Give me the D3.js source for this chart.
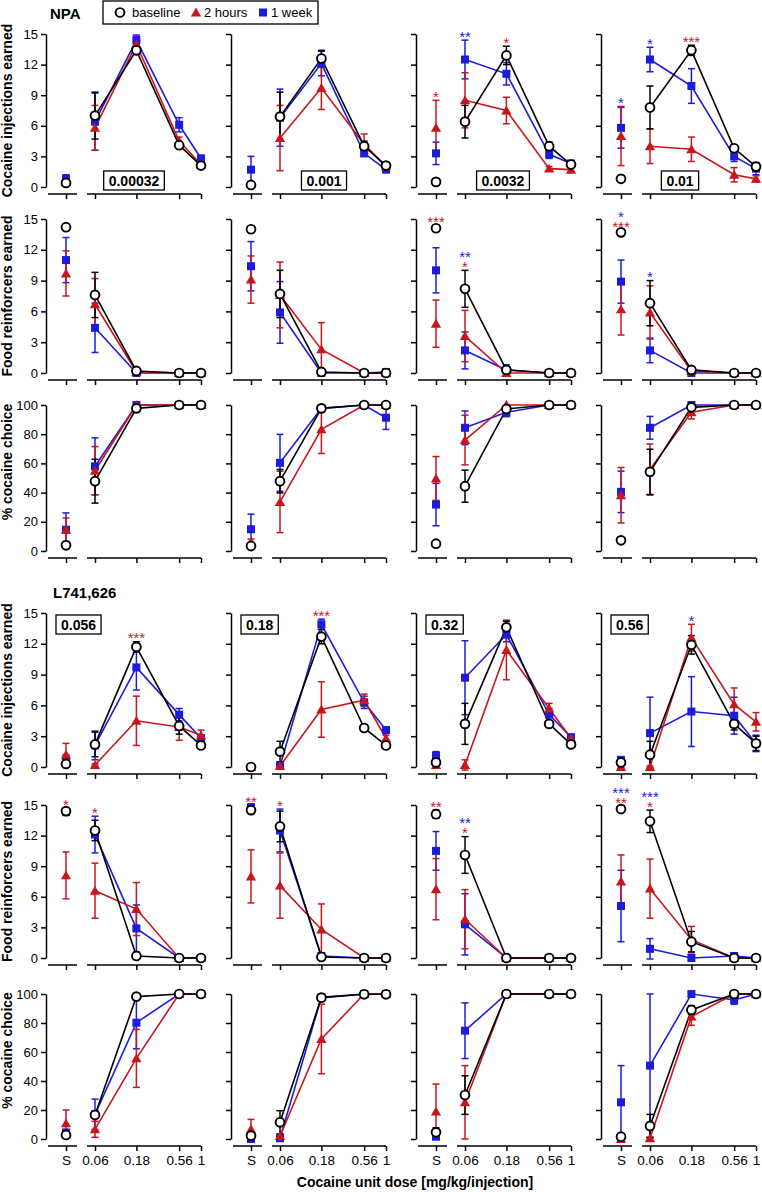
<!DOCTYPE html>
<html>
<head>
<meta charset="utf-8">
<script src="https://cdn.jsdelivr.net/npm/d3@7"></script>
<style>
body { margin: 0; background: #fff; }
svg { font-family: "Liberation Sans", Arial, Helvetica, sans-serif; }
</style>
</head>
<body>
<div id="chart"></div>
<script>
// x categories: saline (S) and the cocaine unit doses
const doseLabels = ["S", "0.06", "0.18", "0.56", "1"];
const doseValues = [null, 0.06, 0.18, 0.56, 1];
const seriesNames = ["baseline", "2 hours", "1 week"];
const npaPretreat = ["0.00032", "0.001", "0.0032", "0.01"];
const l741Pretreat = ["0.056", "0.18", "0.32", "0.56"];
const countTicks = [0, 3, 6, 9, 12, 15];
const choiceTicks = [0, 20, 40, 60, 80, 100];

// one row per pretreatment dose; values at S, 0.06, 0.18, 0.56, 1
const npaInjBase = [[0.4, 7.0, 13.4, 4.1, 2.1], [0.2, 6.9, 12.6, 4.0, 2.1], [0.5, 6.4, 12.9, 4.0, 2.2], [0.8, 7.8, 13.4, 3.8, 2.0]];
const npaInjBaseSem = [[0.2, 2.3, 0.4, 0.3, 0.2], [0.1, 2.4, 0.8, 0.5, 0.2], [0.3, 1.6, 0.9, 0.4, 0.2], [0.1, 2.1, 0.5, 0.3, 0.3]];
const npaInj2h = [[0.5, 5.8, 14.0, 4.5, 2.2], [0.3, 4.8, 9.7, 4.2, 2.0], [5.8, 8.5, 7.5, 1.8, 1.7], [5.0, 4.0, 3.7, 1.2, 0.8]];
const npaInj2hSem = [[0.3, 2.2, 0.8, 0.4, 0.2], [0.2, 3.2, 2.1, 1.0, 0.2], [2.7, 2.7, 1.3, 0.2, 0.2], [2.9, 1.7, 1.2, 0.7, 0.3]];
const npaInj1w = [[0.8, 6.4, 14.4, 6.1, 2.8], [1.7, 6.8, 12.1, 3.3, 1.7], [3.3, 12.5, 11.1, 3.2, 2.3], [5.8, 12.5, 9.9, 3.0, 1.8]];
const npaInj1wSem = [[0.4, 2.8, 0.5, 0.7, 0.3], [1.3, 2.8, 1.2, 0.3, 0.2], [1.1, 1.9, 1.1, 0.4, 0.3], [2.0, 1.2, 1.7, 0.5, 0.6]];

const npaFoodBase = [[14.2, 7.6, 0.2, 0, 0], [14.0, 7.7, 0.1, 0, 0], [14.1, 8.2, 0.3, 0, 0], [13.7, 6.8, 0.3, 0, 0]];
const npaFoodBaseSem = [[0.3, 2.2, 0.1, 0, 0], [0.3, 2.3, 0.1, 0, 0], [0.3, 1.8, 0.2, 0, 0], [0.2, 2.2, 0.2, 0, 0]];
const npaFood2h = [[9.7, 6.7, 0.1, 0, 0], [9.1, 7.6, 2.3, 0, 0], [4.8, 3.6, 0, 0, 0], [6.2, 5.9, 0.2, 0, 0]];
const npaFood2hSem = [[2.2, 2.5, 0, 0, 0], [2.3, 3.2, 2.6, 0, 0], [2.3, 2.5, 0, 0, 0], [2.5, 2.6, 0.1, 0, 0]];
const npaFood1w = [[11.0, 4.4, 0, 0, 0], [10.4, 5.9, 0, 0, 0.1], [10.0, 2.2, 0.3, 0, 0], [8.9, 2.2, 0, 0, 0]];
const npaFood1wSem = [[2.2, 2.4, 0, 0, 0], [2.4, 3.0, 0, 0, 0], [2.2, 1.8, 0.5, 0, 0], [2.1, 1.2, 0, 0, 0]];

const npaChoiceBase = [[3.9, 47.8, 97.7, 100, 100], [3.4, 47.8, 97.7, 100, 100], [5.0, 44.4, 97.3, 100, 100], [7.3, 54.2, 98.4, 100, 100]];
const npaChoiceBaseSem = [[1, 15, 1, 0, 0], [1, 8, 1, 0, 0], [1, 11, 1.5, 0, 0], [1, 15.5, 1, 0, 0]];
const npaChoice2h = [[14.6, 55, 100, 100, 100], [6.2, 33.6, 83.3, 100, 100], [49.7, 76, 100, 100, 100], [38.2, 55.8, 95, 100, 100]];
const npaChoice2hSem = [[8, 16.5, 0, 0, 0], [2, 21, 16.5, 0, 0], [15, 17, 0, 0, 0], [19, 17.5, 4.5, 0, 0]];
const npaChoice1w = [[14.6, 58, 100, 100, 100], [14.9, 60.4, 97.7, 100, 91.3], [31.8, 84.4, 95, 100, 100], [40.5, 84.4, 100, 100, 100]];
const npaChoice1wSem = [[11.5, 19.5, 0, 0, 0], [10.3, 19.5, 1, 0, 8], [14.5, 11.5, 3, 0, 0], [14.2, 7.8, 0, 0, 0]];

const l741InjBase = [[0.3, 2.2, 11.7, 4.0, 2.1], [0, 1.5, 12.7, 3.8, 2.1], [0.45, 4.2, 13.6, 4.2, 2.2], [0.45, 1.2, 11.9, 4.2, 2.3]];
const l741InjBaseSem = [[0.2, 1.2, 0.5, 0.8, 0.2], [0.1, 1.0, 0.7, 0.2, 0.2], [0.3, 2.0, 0.6, 0.3, 0.2], [0.2, 1.3, 0.9, 0.6, 0.7]];
const l741Inj2h = [[1.2, 0.2, 4.5, 3.9, 3.1], [0, 0.1, 5.6, 6.5, 2.8], [0.2, 0.2, 11.4, 5.7, 2.8], [0, 0, 12.6, 6.1, 4.4]];
const l741Inj2hSem = [[1.1, 0.1, 2.4, 1.3, 0.5], [0.1, 0.1, 2.7, 0.6, 0.3], [0.2, 0.5, 2.9, 0.5, 0.3], [0.1, 0.1, 1.3, 1.6, 0.9]];
const l741Inj1w = [[0.7, 2.1, 9.7, 5.1, 2.8], [0, 0.1, 13.9, 6.3, 3.6], [1.1, 8.7, 12.9, 5.1, 2.9], [0.7, 3.3, 5.4, 5.0, 2.3]];
const l741Inj1wSem = [[0.5, 1.4, 2.2, 0.6, 0.3], [0.1, 0.1, 0.5, 0.6, 0.3], [0.4, 3.6, 0.7, 0.6, 0.3], [0.3, 3.5, 3.4, 1.8, 0.8]];

const l741FoodBase = [[14.4, 12.5, 0.2, 0, 0], [14.5, 12.9, 0.1, 0, 0], [14.1, 10.1, 0, 0, 0], [14.6, 13.4, 1.6, 0, 0]];
const l741FoodBaseSem = [[0.3, 1.0, 0.1, 0, 0], [0.2, 1.5, 0.1, 0, 0], [0.4, 1.8, 0, 0, 0], [0.3, 1.1, 1.0, 0, 0]];
const l741Food2h = [[8.1, 6.6, 4.8, 0, 0], [8.0, 7.1, 2.8, 0, 0], [6.75, 3.8, 0, 0, 0], [7.5, 6.8, 1.8, 0, 0]];
const l741Food2hSem = [[2.3, 2.7, 2.6, 0, 0], [2.6, 3.2, 2.5, 0, 0], [3.0, 2.9, 0, 0, 0], [2.6, 2.9, 1.3, 0, 0]];
const l741Food1w = [[14.3, 12.1, 2.9, 0, 0], [14.8, 12.5, 0.2, 0, 0], [10.5, 3.3, 0, 0, 0], [5.1, 0.9, 0, 0.2, 0]];
const l741Food1wSem = [[0.3, 1.8, 2.3, 0, 0], [0.2, 2.1, 0.1, 0, 0], [1.9, 3.0, 0, 0, 0], [3.5, 1.0, 0, 0.2, 0]];

const l741ChoiceBase = [[2.8, 16.6, 98.2, 100, 100], [2.3, 11.5, 97.5, 99.8, 99.8], [4.6, 30.3, 100, 100, 100], [1.6, 9, 89, 100, 100]];
const l741ChoiceBaseSem = [[1, 2, 1, 0, 0], [1, 8, 1.5, 0, 0], [3.2, 13.3, 0, 0, 0], [1, 8, 3, 0, 0]];
const l741Choice2h = [[10.8, 6.7, 55.6, 100, 100], [6.7, 2.1, 69, 100, 100], [18.9, 25.3, 100, 100, 100], [0, 0.5, 84.4, 100, 100]];
const l741Choice2hSem = [[9.2, 5.5, 20, 0, 0], [6.8, 1, 24, 0, 0], [19, 25.3, 0, 0, 0], [0.5, 0.5, 6, 0, 0]];
const l741Choice1w = [[4.5, 17, 80.2, 100, 100], [0, 0.5, 97.7, 100, 100], [1.6, 74.7, 100, 100, 100], [25.3, 50.6, 100, 95.9, 100]];
const l741Choice1wSem = [[2, 10.5, 18, 0, 0], [0.5, 1, 1.5, 0, 0], [1, 19.2, 0, 0, 0], [25.3, 49.4, 0, 3, 0]];

// significance marks: [row, column, dose index, series index, mark]
const stars = [
    [0, 2, 0, 1, "*"], [0, 2, 1, 2, "**"], [0, 2, 2, 1, "*"],
    [0, 3, 0, 2, "*"], [0, 3, 1, 2, "*"], [0, 3, 2, 1, "***"],
    [1, 2, 0, 1, "***"], [1, 2, 1, 2, "**"], [1, 2, 1, 1, "*"],
    [1, 3, 0, 2, "*"], [1, 3, 0, 1, "***"], [1, 3, 1, 2, "*"],
    [3, 0, 2, 1, "***"], [3, 1, 2, 1, "***"], [3, 3, 2, 2, "*"],
    [4, 0, 0, 1, "*"], [4, 0, 1, 1, "*"], [4, 1, 0, 1, "**"], [4, 1, 1, 1, "*"],
    [4, 2, 0, 1, "**"], [4, 2, 1, 2, "**"], [4, 2, 1, 1, "*"],
    [4, 3, 0, 2, "***"], [4, 3, 0, 1, "**"], [4, 3, 1, 2, "***"], [4, 3, 1, 1, "*"]
];

const seriesColor = ["#000000", "#c8161d", "#1c1cdc"];

const rowsData = [
    {means: [npaInjBase, npaInj2h, npaInj1w], sems: [npaInjBaseSem, npaInj2hSem, npaInj1wSem], max: 15, ticks: countTicks, title: "Cocaine injections earned"},
    {means: [npaFoodBase, npaFood2h, npaFood1w], sems: [npaFoodBaseSem, npaFood2hSem, npaFood1wSem], max: 15, ticks: countTicks, title: "Food reinforcers earned"},
    {means: [npaChoiceBase, npaChoice2h, npaChoice1w], sems: [npaChoiceBaseSem, npaChoice2hSem, npaChoice1wSem], max: 100, ticks: choiceTicks, title: "% cocaine choice"},
    {means: [l741InjBase, l741Inj2h, l741Inj1w], sems: [l741InjBaseSem, l741Inj2hSem, l741Inj1wSem], max: 15, ticks: countTicks, title: "Cocaine injections earned"},
    {means: [l741FoodBase, l741Food2h, l741Food1w], sems: [l741FoodBaseSem, l741Food2hSem, l741Food1wSem], max: 15, ticks: countTicks, title: "Food reinforcers earned"},
    {means: [l741ChoiceBase, l741Choice2h, l741Choice1w], sems: [l741ChoiceBaseSem, l741Choice2hSem, l741Choice1wSem], max: 100, ticks: choiceTicks, title: "% cocaine choice"}
];

// layout
const width = 762, height = 1192;
const colAxisX = [46, 231, 416, 601];
const rowTop = [34, 219, 405, 613, 805, 994];
const rowBottom = [187, 373, 551, 767, 958, 1139];

const svg = d3.select("#chart").append("svg")
    .attr("width", width)
    .attr("height", height);

function yScale(r) {
    return d3.scaleLinear()
        .domain([0, rowsData[r].max])
        .range([rowBottom[r], rowTop[r]]);
}

function doseScale(c) {
    return d3.scaleLog()
        .domain([0.06, 1])
        .range([colAxisX[c] + 49, colAxisX[c] + 155]);
}

function salineScale(c) {
    return d3.scalePoint()
        .domain(["S"])
        .range([colAxisX[c] + 9, colAxisX[c] + 31])
        .padding(0.5);
}

function xAt(c, i) {
    return i === 0 ? salineScale(c)("S") : doseScale(c)(doseValues[i]);
}

function styleAxis(sel) {
    sel.attr("font-size", 13).attr("font-family", null);
    sel.selectAll("path, line").attr("stroke", "#000").attr("stroke-width", 1.5);
    sel.selectAll("text").attr("fill", "#000");
}

function marker(g, s, x, yv) {
    if (s === 0) {
        g.append("circle").attr("cx", x).attr("cy", yv).attr("r", 4.4)
            .attr("fill", "#fff").attr("stroke", "#000").attr("stroke-width", 1.9);
    } else if (s === 1) {
        g.append("path").attr("d", d3.symbol(d3.symbolTriangle, 46)())
            .attr("transform", `translate(${x},${yv + 1})`)
            .attr("fill", seriesColor[1]);
    } else {
        g.append("rect").attr("x", x - 4).attr("y", yv - 4)
            .attr("width", 8).attr("height", 8)
            .attr("fill", seriesColor[2]);
    }
}

function drawPanel(r, c) {
    const row = rowsData[r];
    const ax = colAxisX[c];
    const y = yScale(r);
    const xDose = doseScale(c);
    const xSal = salineScale(c);
    const axisY = rowBottom[r] + 7;
    const g = svg.append("g");

    // y axis
    const yAxis = d3.axisLeft(y).tickValues(row.ticks).tickSize(5).tickSizeOuter(0).tickPadding(3);
    if (c > 0) yAxis.tickFormat("");
    g.append("g")
        .attr("transform", `translate(${ax},0)`)
        .call(yAxis)
        .call(styleAxis);

    // broken x axis: saline piece and dose piece
    const sAxis = g.append("g")
        .attr("transform", `translate(0,${axisY})`)
        .call(d3.axisBottom(xSal).tickSize(5).tickSizeOuter(0).tickPadding(4))
        .call(styleAxis);
    sAxis.select(".domain").attr("d", `M${ax + 2},0H${ax + 31}`);

    const dAxis = g.append("g")
        .attr("transform", `translate(0,${axisY})`)
        .call(d3.axisBottom(xDose)
            .tickValues(doseValues.slice(1))
            .tickFormat((d, i) => doseLabels[i + 1])
            .tickSize(5).tickSizeOuter(0).tickPadding(4))
        .call(styleAxis);
    dAxis.select(".domain").attr("d", `M${ax + 41},0H${ax + 155}`);

    if (r !== 5) {
        sAxis.selectAll("text").remove();
        dAxis.selectAll("text").remove();
    } else {
        sAxis.selectAll("text").attr("font-size", 13.5);
        dAxis.selectAll("text").attr("font-size", 13.5);
    }

    const order = [2, 1, 0];
    const line = d3.line().x(d => xAt(c, d.i)).y(d => y(d.v));

    // lines and error bars
    order.forEach(s => {
        const pts = row.means[s][c].map((v, i) => ({i: i, v: v, e: row.sems[s][c][i]}));
        const col = seriesColor[s];
        g.append("path")
            .datum(pts.slice(1))
            .attr("fill", "none")
            .attr("stroke", col)
            .attr("stroke-width", 1.6)
            .attr("d", line);

        const eb = g.append("g")
            .attr("stroke", col)
            .attr("stroke-width", 1.5)
            .selectAll("g")
            .data(pts.filter(d => d.e > 0))
            .join("g");
        eb.append("line")
            .attr("x1", d => xAt(c, d.i)).attr("x2", d => xAt(c, d.i))
            .attr("y1", d => y(d.v - d.e)).attr("y2", d => y(d.v + d.e));
        eb.append("line")
            .attr("x1", d => xAt(c, d.i) - 3.5).attr("x2", d => xAt(c, d.i) + 3.5)
            .attr("y1", d => y(d.v + d.e)).attr("y2", d => y(d.v + d.e));
        eb.append("line")
            .attr("x1", d => xAt(c, d.i) - 3.5).attr("x2", d => xAt(c, d.i) + 3.5)
            .attr("y1", d => y(d.v - d.e)).attr("y2", d => y(d.v - d.e));
    });

    // markers
    order.forEach(s => {
        row.means[s][c].forEach((v, i) => marker(g, s, xAt(c, i), y(v)));
    });
}

for (let r = 0; r < 6; r++) {
    for (let c = 0; c < 4; c++) {
        drawPanel(r, c);
    }
}

// significance marks, stacked above the highest error bar (red lowest, blue on top)
const starGroups = d3.group(stars, d => d.slice(0, 3).join("-"));
starGroups.forEach(list => {
    const [r, c, i] = list[0];
    const row = rowsData[r];
    const top = d3.max([0, 1, 2], s => row.means[s][c][i] + row.sems[s][c][i]);
    const y = yScale(r);
    const sorted = list.slice().sort((a, b) => a[3] - b[3]);
    const t = svg.append("text")
        .attr("text-anchor", "middle")
        .attr("font-size", 15);
    sorted.forEach((st, k) => {
        t.append("tspan")
            .attr("x", xAt(c, i))
            .attr("y", y(top) + 1.5 - k * 10)
            .attr("fill", seriesColor[st[3]])
            .text(st[4]);
    });
});

// y axis titles
rowsData.forEach((row, r) => {
    const shift = row.max === 100 ? -16 : 0;
    const cy = (rowTop[r] + rowBottom[r]) / 2 + shift;
    svg.append("text")
        .attr("transform", `translate(12,${cy}) rotate(-90)`)
        .attr("text-anchor", "middle")
        .attr("font-size", 14)
        .attr("font-weight", "bold")
        .text(row.title);
});

// pretreatment dose boxes
function doseBox(label, cx, left, top) {
    const bg = svg.append("g");
    const box = bg.append("rect");
    const t = bg.append("text")
        .attr("font-size", 14)
        .attr("font-weight", "bold")
        .attr("text-anchor", "middle")
        .text(label);
    const w = t.node().getComputedTextLength() + 10;
    const x0 = left !== null ? left : cx - w / 2;
    t.attr("x", x0 + w / 2).attr("y", top + 15);
    box.attr("x", x0).attr("y", top)
        .attr("width", w).attr("height", 19)
        .attr("fill", "#fff")
        .attr("stroke", "#000")
        .attr("stroke-width", 1.3);
}
const npaBoxCenter = [134, 324, 503, 680];
npaPretreat.forEach((d, c) => doseBox(d, npaBoxCenter[c], null, 171));
l741Pretreat.forEach((d, c) => doseBox(d, 0, colAxisX[c] + 10, 615));

// drug names
svg.append("text").attr("x", 50).attr("y", 19)
    .attr("font-size", 15).attr("font-weight", "bold").text("NPA");
svg.append("text").attr("x", 53).attr("y", 598)
    .attr("font-size", 15).attr("font-weight", "bold").text("L741,626");

// x axis title
svg.append("text")
    .attr("x", 415).attr("y", 1187)
    .attr("text-anchor", "middle")
    .attr("font-size", 14)
    .attr("font-weight", "bold")
    .text("Cocaine unit dose [mg/kg/injection]");

// legend
const legend = svg.append("g");
legend.append("rect")
    .attr("x", 103).attr("y", 1)
    .attr("width", 215).attr("height", 23)
    .attr("fill", "#fff").attr("stroke", "#000").attr("stroke-width", 1.3);
const legendX = [120, 196, 263];
seriesNames.forEach((name, s) => {
    marker(legend, s, legendX[s], 12.5);
    legend.append("text")
        .attr("x", legendX[s] + (s === 0 ? 12 : 8))
        .attr("y", 17)
        .attr("font-size", 13)
        .text(name);
});
</script>
</body>
</html>
